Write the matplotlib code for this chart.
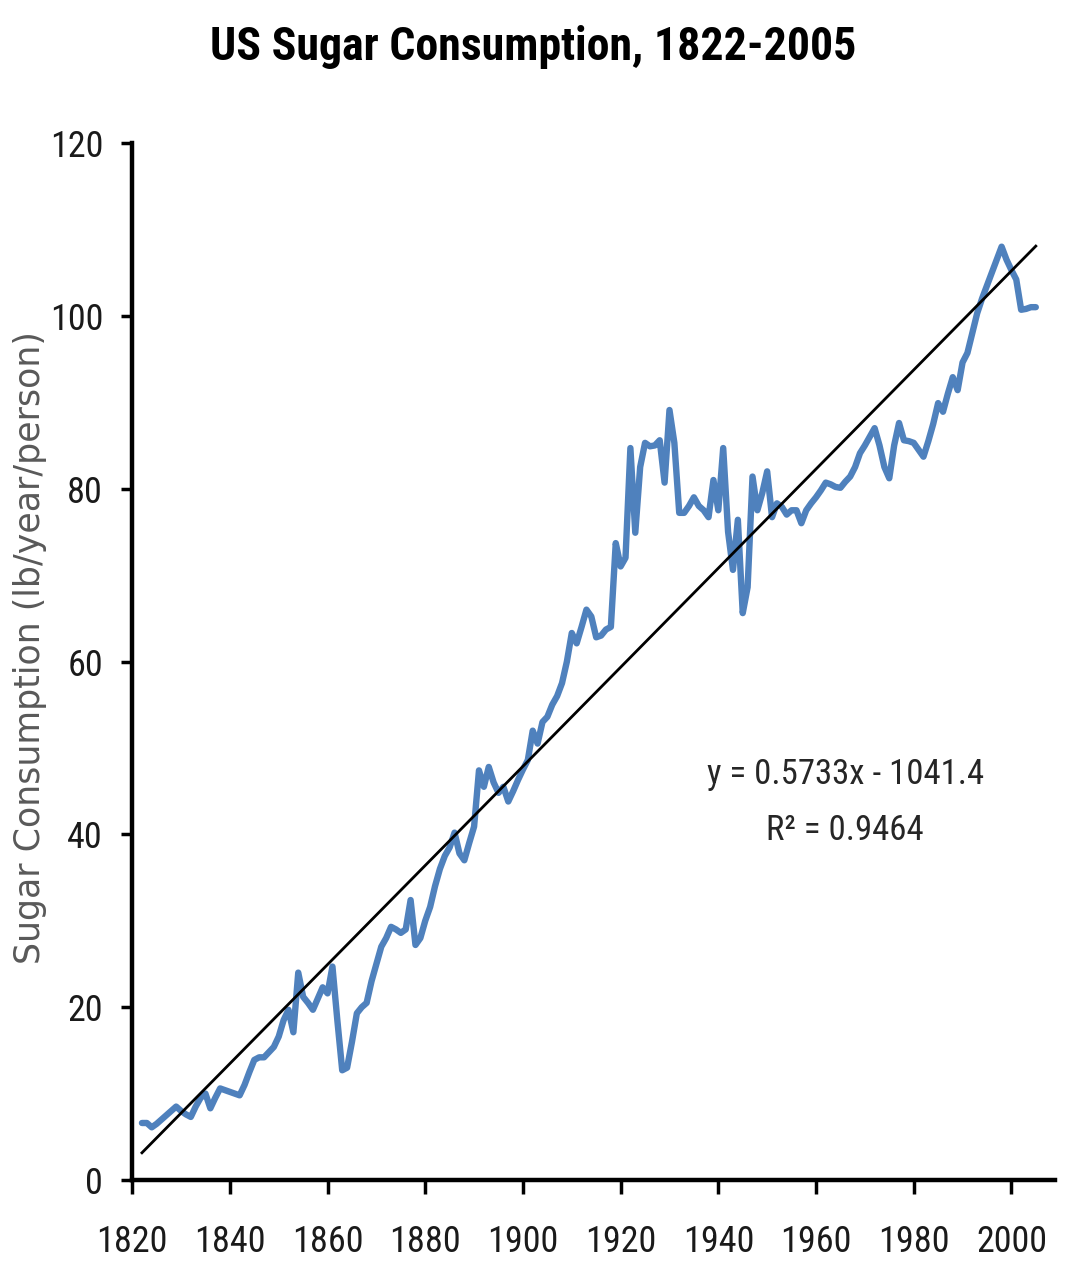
import matplotlib
matplotlib.use("Agg")
import matplotlib.pyplot as plt
import numpy as np
from matplotlib import font_manager

# Annual per-capita sugar consumption, lb/year/person
years = list(range(1822, 2006))
consumption = [
    6.6, 6.6, 6.1, 6.5, 7.0, 7.5, 8.0, 8.5, 8.0, 7.6,          # 1822-1831
    7.3, 8.5, 9.5, 10.0, 8.3, 9.5, 10.6, 10.4, 10.2, 10.0,     # 1832-1841
    9.8, 11.0, 12.5, 13.9, 14.2, 14.2, 14.8, 15.4, 16.6, 18.5, # 1842-1851
    19.7, 17.1, 24.0, 21.2, 20.5, 19.7, 21.0, 22.3, 21.6, 24.7, # 1852-1861
    18.5, 12.7, 13.0, 16.0, 19.3, 20.0, 20.5, 23.0, 25.0, 27.0, # 1862-1871
    28.0, 29.3, 29.0, 28.6, 29.0, 32.4, 27.2, 28.0, 30.0, 31.6, # 1872-1881
    34.0, 36.0, 37.5, 38.5, 40.2, 37.8, 37.0, 39.0, 40.9, 47.4, # 1882-1891
    45.5, 47.8, 46.0, 44.8, 45.5, 43.8, 45.0, 46.3, 47.5, 48.6, # 1892-1901
    52.0, 50.5, 53.0, 53.6, 55.0, 56.0, 57.5, 60.0, 63.3, 62.1, # 1902-1911
    64.0, 66.0, 65.2, 62.8, 63.0, 63.7, 64.0, 73.7, 71.0, 72.0, # 1912-1921
    84.7, 74.9, 82.5, 85.3, 84.9, 85.0, 85.6, 80.7, 89.1, 85.3, # 1922-1931
    77.2, 77.2, 78.0, 79.0, 78.0, 77.5, 76.7, 81.0, 77.5, 84.7, # 1932-1941
    75.0, 70.6, 76.4, 65.6, 68.6, 81.4, 77.5, 79.5, 82.0, 76.7, # 1942-1951
    78.3, 77.9, 77.0, 77.5, 77.5, 76.0, 77.5, 78.3, 79.0, 79.8, # 1952-1961
    80.7, 80.5, 80.2, 80.1, 80.8, 81.4, 82.5, 84.1, 85.0, 86.0, # 1962-1971
    87.0, 85.0, 82.5, 81.2, 85.0, 87.6, 85.6, 85.5, 85.3, 84.5, # 1972-1981
    83.7, 85.5, 87.5, 89.9, 88.9, 91.0, 92.9, 91.4, 94.6, 95.7, # 1982-1991
    98.0, 100.3, 102.0, 103.5, 105.0, 106.5, 108.0, 106.5, 105.3, 104.2, # 1992-2001
    100.7, 100.8, 101.0, 101.0,                                 # 2002-2005
]

# Linear trend reported on the chart
slope = 0.5733
intercept = -1041.4
r_squared = 0.9464

x_ticks = [1820, 1840, 1860, 1880, 1900, 1920, 1940, 1960, 1980, 2000]
y_ticks = [0, 20, 40, 60, 80, 100, 120]

installed = {f.name for f in font_manager.fontManager.ttflist}
narrow = [f for f in ["Liberation Sans Narrow", "Roboto Condensed", "Open Sans Condensed",
                      "DejaVu Sans Condensed", "Open Sans", "DejaVu Sans"] if f in installed]

fig = plt.figure(figsize=(10.66, 12.72), dpi=100)
ax = fig.add_axes([0.124, 0.0723, 0.866, 0.8153])

line_color = "#4F81BD"
ax.plot(years, consumption, color=line_color, lw=4.6, solid_joinstyle="round",
        solid_capstyle="round", zorder=2)

trend_x = np.array([years[0], years[-1]])
ax.plot(trend_x, slope * trend_x + intercept, color="black", lw=2.0, zorder=3)

ax.set_xlim(1820, 2009)
ax.set_ylim(0, 120)
ax.set_xticks(x_ticks)
ax.set_yticks(y_ticks)
ax.set_xticklabels([str(t) for t in x_ticks], family=narrow, fontsize=26, color="#1a1a1a")
ax.set_yticklabels([str(t) for t in y_ticks], family=narrow, fontsize=26, color="#1a1a1a")

for side in ("top", "right"):
    ax.spines[side].set_visible(False)
for side in ("left", "bottom"):
    ax.spines[side].set_linewidth(3.2)
    ax.spines[side].set_color("black")
ax.tick_params(axis="x", direction="out", length=10, width=2.5, pad=22)
ax.tick_params(axis="y", direction="out", length=8, width=2.5, pad=13)

fig.text(0.028, 0.491, "Sugar Consumption (lb/year/person)", rotation=90,
         fontsize=25, color="#595959", family=["DejaVu Sans"], ha="center", va="center")

ax.text(1966, 46.9, f"y = {slope}x - {abs(intercept)}", family=narrow, fontsize=25,
        ha="center", va="center", color="#262626")
ax.text(1966, 40.4, f"R\u00b2 = {r_squared}", family=narrow, fontsize=25,
        ha="center", va="center", color="#262626")

fig.text(0.5, 0.963, "US Sugar Consumption, 1822-2005", family=narrow, fontsize=33,
         fontweight="bold", ha="center", va="center", color="black")

fig.savefig("out.png", dpi=100, facecolor="white")
